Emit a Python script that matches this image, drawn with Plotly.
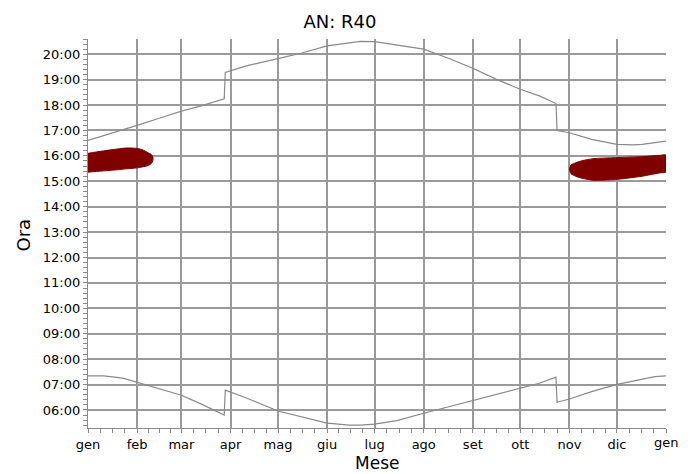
import plotly.graph_objects as go

# ---- data ----
month_labels = ["gen", "feb", "mar", "apr", "mag", "giu", "lug", "ago", "set", "ott", "nov", "dic", "gen"]
month_starts = [0, 31, 59, 90, 120, 151, 181, 212, 243, 273, 304, 334, 365]

hour_vals = list(range(6, 21))
hour_labels = [f"{h:02d}:00" for h in hour_vals]

sun_days = [0, 10, 22, 31, 45, 59, 72, 86, 86.7, 100, 120, 135, 151, 165, 172, 181, 195,
            212, 228, 243, 258, 273, 285, 295.5, 296.2, 304, 318, 334, 344, 350, 358, 365]
sunset = [16.61, 16.80, 17.00, 17.20, 17.48, 17.76, 17.98, 18.25, 19.28, 19.54, 19.83, 20.05,
          20.33, 20.46, 20.51, 20.50, 20.37, 20.20, 19.83, 19.45, 19.01, 18.62, 18.36, 18.06,
          17.00, 16.91, 16.65, 16.45, 16.43, 16.45, 16.52, 16.58]
sunrise = [7.34, 7.34, 7.25, 7.09, 6.85, 6.58, 6.22, 5.80, 6.78, 6.47, 5.96, 5.72, 5.48, 5.40,
           5.40, 5.44, 5.58, 5.87, 6.13, 6.39, 6.63, 6.86, 7.05, 7.29, 6.30, 6.43, 6.72, 7.01,
           7.14, 7.22, 7.31, 7.34]

# shadow periods (day, start hour, end hour)
shadow1_days = [0, 8, 16, 24, 30, 34, 38, 40, 41]
shadow1_end = [16.10, 16.18, 16.25, 16.31, 16.30, 16.25, 16.12, 16.05, 15.95]
shadow1_start = [15.36, 15.40, 15.44, 15.49, 15.52, 15.56, 15.62, 15.70, 15.82]

shadow2_days = [304, 305, 308, 312, 319, 333, 350, 361, 365]
shadow2_end = [15.47, 15.64, 15.73, 15.81, 15.89, 15.93, 15.97, 16.02, 16.03]
shadow2_start = [15.47, 15.30, 15.20, 15.12, 15.04, 15.07, 15.20, 15.33, 15.37]

FONT = "DejaVu Sans"
GRID = "#9a9a9a"
LINE = "#8a8a8a"
SHADOW = "#800000"

fig = go.Figure()

for d, s, e in [(shadow1_days, shadow1_start, shadow1_end),
                (shadow2_days, shadow2_start, shadow2_end)]:
    fig.add_trace(go.Scatter(
        x=list(d) + list(d)[::-1],
        y=list(e) + list(s)[::-1],
        mode="lines", fill="toself", fillcolor=SHADOW,
        line=dict(color=SHADOW, width=1, shape="spline", smoothing=0.6),
        hoverinfo="skip", showlegend=False))

fig.add_trace(go.Scatter(x=sun_days, y=sunset, mode="lines",
                         line=dict(color=LINE, width=1.2), showlegend=False))
fig.add_trace(go.Scatter(x=sun_days, y=sunrise, mode="lines",
                         line=dict(color=LINE, width=1.2), showlegend=False))

# minor ticks: quarter-month subdivisions, plus the closing year-end tick
minor_x = []
for a, b in zip(month_starts[:-1], month_starts[1:]):
    for k in (1, 2, 3):
        minor_x.append(a + (b - a) * k / 4)
minor_x.append(month_starts[-1])

fig.update_layout(
    width=696, height=474,
    margin=dict(l=88, r=30, t=39, b=46),
    plot_bgcolor="white", paper_bgcolor="white",
    font=dict(family=FONT, size=13, color="black"),
    title=dict(text="AN: R40", x=340 / 696, xanchor="center", y=1 - 22 / 474,
               yanchor="middle", font=dict(family=FONT, size=18, color="black")),
    xaxis=dict(
        range=[0, 365], tickmode="array", tickvals=month_starts[:-1],
        ticktext=month_labels[:-1],
        showgrid=True, gridcolor=GRID, gridwidth=1.6, zeroline=False,
        showline=True, linecolor=LINE, linewidth=1.2,
        ticks="outside", ticklen=4, tickcolor=LINE, tickwidth=1,
        tickfont=dict(family=FONT, size=13, color="black"),
        minor=dict(tickmode="array", tickvals=minor_x, ticks="outside", ticklen=4,
                   tickcolor=LINE, tickwidth=1, showgrid=False),
        fixedrange=True, automargin=False,
    ),
    yaxis=dict(
        range=[5.29, 20.6], tickmode="array", tickvals=hour_vals, ticktext=hour_labels,
        showgrid=True, gridcolor=GRID, gridwidth=1.6, zeroline=False,
        showline=True, linecolor=LINE, linewidth=1.2,
        ticks="outside", ticklen=4, tickcolor=LINE, tickwidth=1,
        tickfont=dict(family=FONT, size=13, color="black"),
        minor=dict(dtick=0.2, tick0=0, ticks="outside", ticklen=4,
                   tickcolor=LINE, tickwidth=1, showgrid=False),
        fixedrange=True, automargin=False,
    ),
    annotations=[
        dict(text=month_labels[-1], xref="x", yref="paper", x=month_starts[-1],
             y=(428 - 442.5) / 389, xanchor="center", yanchor="middle", showarrow=False,
             font=dict(family=FONT, size=13, color="black")),
        dict(text="Mese", xref="paper", yref="paper", x=(377 - 88) / 578,
             y=(428 - 463) / 389, xanchor="center", yanchor="middle", showarrow=False,
             font=dict(family=FONT, size=17, color="black")),
        dict(text="Ora", xref="paper", yref="paper", x=(22.5 - 88) / 578,
             y=(428 - 235) / 389, xanchor="center", yanchor="middle", showarrow=False,
             textangle=-90, font=dict(family=FONT, size=18, color="black")),
    ],
)

fig.write_html(
    "out.html",
    config={"displayModeBar": False},
    post_script="document.body.style.margin='0';document.body.style.padding='0';",
)
